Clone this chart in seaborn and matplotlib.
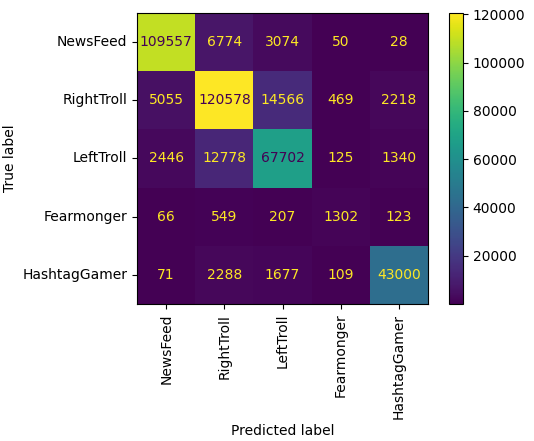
import numpy as np
import pandas as pd
import matplotlib
matplotlib.use("Agg")
import matplotlib.pyplot as plt
import seaborn as sns

# Class names (rows = true, columns = predicted)
labels = ["NewsFeed", "RightTroll", "LeftTroll", "Fearmonger", "HashtagGamer"]

# Confusion matrix counts, one list per true label
row_newsfeed = [109557, 6774, 3074, 50, 28]
row_righttroll = [5055, 120578, 14566, 469, 2218]
row_lefttroll = [2446, 12778, 67702, 125, 1340]
row_fearmonger = [66, 549, 207, 1302, 123]
row_hashtaggamer = [71, 2288, 1677, 109, 43000]

cm = pd.DataFrame([row_newsfeed, row_righttroll, row_lefttroll,
                   row_fearmonger, row_hashtaggamer],
                  index=labels, columns=labels)

plt.rcParams['font.family'] = ['DejaVu Sans']

fig = plt.figure(figsize=(5.34, 4.41), dpi=100)
ax = fig.add_axes([0.2566, 0.3107, 0.545, 0.66])
cax = fig.add_axes([0.841, 0.3107, 0.0262, 0.66])

cmap = plt.get_cmap("viridis")
sns.heatmap(cm, ax=ax, cbar_ax=cax, cmap=cmap, annot=True, fmt="d",
            annot_kws={"fontsize": 10}, linewidths=0)

# text colour like sklearn: light text on dark cells, dark on bright cells
vals = cm.values
thresh = (vals.max() + vals.min()) / 2.0
for t, v in zip(ax.texts, vals.flatten()):
    t.set_color(cmap(0.0) if v >= thresh else cmap(1.0))

for s in ax.spines.values():
    s.set_visible(True)
    s.set_linewidth(0.8)
ax.tick_params(axis="x", rotation=90, length=3.5)
ax.tick_params(axis="y", rotation=0, length=3.5)
ax.set_xlabel("Predicted label")
ax.set_ylabel("True label")

cbar = ax.collections[0].colorbar
cbar.outline.set_visible(True)
cbar.outline.set_linewidth(0.8)
cbar.set_ticks([20000, 40000, 60000, 80000, 100000, 120000])
cax.tick_params(length=3.5)

fig.savefig("out.png", dpi=100)
